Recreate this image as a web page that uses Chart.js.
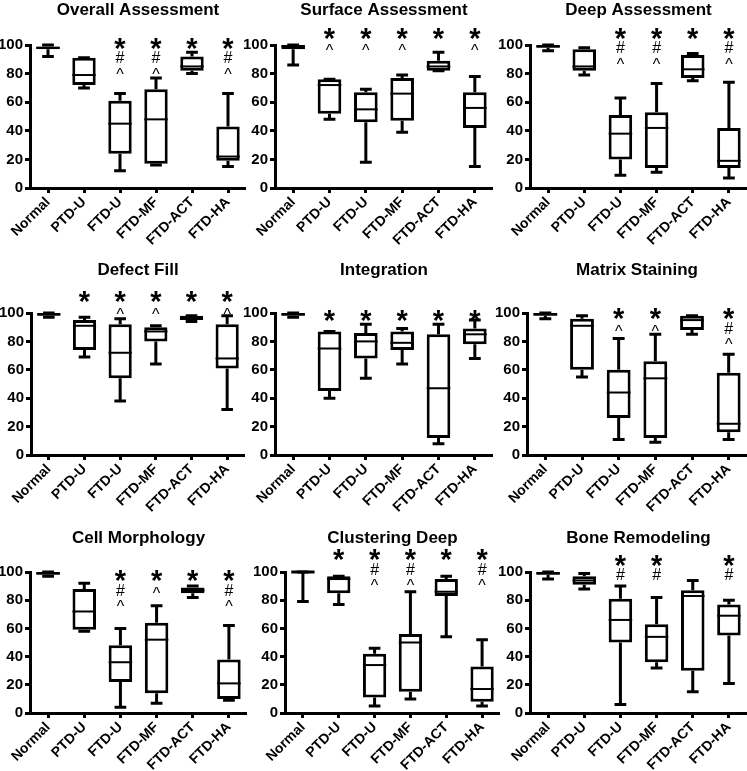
<!DOCTYPE html>
<html>
<head>
<meta charset="utf-8">
<script src="https://cdn.jsdelivr.net/npm/chart.js@4.4.1/dist/chart.umd.min.js"></script>
<style>
    html, body { margin: 0; padding: 0; background: #fff; overflow: hidden; }
    #grid { position: relative; width: 747px; height: 771px; }
    #grid canvas { position: absolute; }
</style>
</head>
<body>
<div id="grid"></div>
<script>
// categories shared by every panel
const groups = ['Normal', 'PTD-U', 'FTD-U', 'FTD-MF', 'FTD-ACT', 'FTD-HA'];

// each box: [min, q1, median, q3, max]
const overallStats  = [[92, 97, 98, 99, 100], [70, 72, 79, 91, 91], [12, 24, 45, 61, 66], [16, 17, 48, 69, 77], [80, 82, 85, 92, 95], [15, 19, 22, 43, 66]];
const overallMarks  = ['', '', '*#^', '*#^', '*', '*#^'];

const surfaceStats  = [[86, 97, 99, 100, 100], [48, 52, 72, 76, 76], [18, 46, 55, 67, 69], [39, 47, 66, 77, 79], [82, 82, 85, 89, 95], [15, 42, 56, 67, 78]];
const surfaceMarks  = ['', '*^', '*^', '*^', '*', '*^'];

const deepStats     = [[96, 98, 99, 100, 100], [79, 82, 85, 97, 98], [9, 20, 38, 51, 63], [11, 14, 42, 53, 73], [75, 77, 83, 93, 94], [7, 14, 19, 42, 74]];
const deepMarks     = ['', '', '*#^', '*#^', '*', '*#^'];

const defectStats   = [[97, 98, 99, 100, 100], [69, 74, 91, 95, 97], [38, 54, 72, 92, 96], [64, 80, 87, 90, 91], [94, 95, 96, 98, 98], [32, 61, 68, 92, 98]];
const defectMarks   = ['', '*', '*^', '*^', '*', '*^'];

const integrStats   = [[97, 98, 99, 100, 100], [40, 45, 75, 87, 87], [54, 68, 80, 86, 92], [64, 74, 79, 87, 89], [8, 12, 47, 85, 92], [68, 78, 85, 89, 95]];
const integrMarks   = ['', '*', '*', '*', '*', '*'];

const matrixStats   = [[96, 98, 99, 100, 100], [55, 60, 91, 96, 98], [11, 26, 44, 60, 82], [9, 12, 54, 66, 85], [85, 88, 95, 98, 98], [11, 16, 22, 58, 71]];
const matrixMarks   = ['', '', '*^', '*^', '', '*#^'];

const cellStats     = [[97, 98, 99, 100, 100], [58, 59, 72, 88, 92], [4, 22, 36, 48, 60], [7, 14, 52, 64, 76], [82, 85, 87, 89, 90], [9, 10, 21, 38, 62]];
const cellMarks     = ['', '', '*#^', '*^', '*', '*#^'];

const clusterStats  = [[79, 100, 100, 100, 100], [77, 85, 95, 97, 97], [5, 11, 34, 42, 46], [10, 15, 50, 56, 86], [54, 83, 86, 95, 97], [5, 8, 17, 33, 52]];
const clusterMarks  = ['', '*', '*#^', '*#^', '*', '*#^'];

const boneStats     = [[95, 98, 99, 100, 100], [88, 91, 94, 97, 99], [6, 50, 66, 81, 90], [32, 36, 54, 63, 82], [15, 30, 83, 87, 94], [21, 55, 69, 77, 80]];
const boneMarks     = ['', '', '*#', '*#', '', '*#'];

const titles   = ['Overall Assessment', 'Surface Assessment', 'Deep Assessment', 'Defect Fill', 'Integration', 'Matrix Staining', 'Cell Morphology', 'Clustering Deep', 'Bone Remodeling'];
// value at which the first significance mark sits, per panel
const markTops = [101, 108, 108, 111, 98, 99, 97, 112, 108];

// page layout (pixels)
const rowTops     = [0, 255, 510];
const titleCenter = [10, 15, 28];
const plotTop     = [45, 58, 62];
const plotBottom  = [188, 200, 203];
const axisLeft    = [[30, 275, 530], [31, 275, 527], [30, 285, 530]];
const axisRight   = [[246, 493, 747], [245, 493, 747], [247, 500, 747]];
const yAxisWidth  = 40;
const xAxisHeight = 68;

const fontFamily = "'Liberation Sans', Arial, sans-serif";

const panels = [
    [overallStats, overallMarks], [surfaceStats, surfaceMarks], [deepStats, deepMarks],
    [defectStats, defectMarks], [integrStats, integrMarks], [matrixStats, matrixMarks],
    [cellStats, cellMarks], [clusterStats, clusterMarks], [boneStats, boneMarks]
];

function makeBoxPlugin(stats, marks, markTop) {
    return {
        id: 'boxWhiskers',
        afterDatasetsDraw(chart) {
            const y = chart.scales.y;
            const ctx = chart.ctx;
            const meta = chart.getDatasetMeta(0);
            ctx.save();
            ctx.strokeStyle = '#000';
            ctx.fillStyle = '#000';
            stats.forEach((s, i) => {
                const bar = meta.data[i];
                const cx = bar.x;
                const half = bar.width / 2;
                const cap = bar.width / 4;
                const [lo, q1, med, q3, hi] = s.map(v => y.getPixelForValue(v));
                ctx.lineWidth = 3;
                ctx.beginPath();
                ctx.moveTo(cx, q3); ctx.lineTo(cx, hi);
                ctx.moveTo(cx - cap, hi); ctx.lineTo(cx + cap, hi);
                ctx.moveTo(cx, q1); ctx.lineTo(cx, lo);
                ctx.moveTo(cx - cap, lo); ctx.lineTo(cx + cap, lo);
                ctx.stroke();
                ctx.lineWidth = s[1] === s[3] ? 3 : 2;
                ctx.beginPath();
                ctx.moveTo(cx - half, med); ctx.lineTo(cx + half, med);
                ctx.stroke();

                // significance marks stacked above the box
                const startY = y.getPixelForValue(markTop);
                ctx.textAlign = 'center';
                ctx.textBaseline = 'alphabetic';
                marks[i].split('').forEach((ch, k) => {
                    ctx.font = ch === '*' ? `bold 29px ${fontFamily}` : `16px ${fontFamily}`;
                    const m = ctx.measureText(ch);
                    const cy = startY + k * 13.5;
                    ctx.fillText(ch, cx, cy + (m.actualBoundingBoxAscent - m.actualBoundingBoxDescent) / 2);
                });
            });
            ctx.restore();
        }
    };
}

const grid = document.getElementById('grid');

panels.forEach(([stats, marks], n) => {
    const row = Math.floor(n / 3);
    const col = n % 3;
    const left = axisLeft[row][col] - yAxisWidth;
    const canvas = document.createElement('canvas');
    canvas.width = axisRight[row][col] - left;
    canvas.height = plotBottom[row] + xAxisHeight;
    canvas.style.left = left + 'px';
    canvas.style.top = rowTops[row] + 'px';
    grid.appendChild(canvas);

    const titleLine = 17 * 1.2;
    const padTop = Math.max(0, titleCenter[row] - titleLine / 2);
    const padBottom = plotTop[row] - padTop - titleLine;

    new Chart(canvas.getContext('2d'), {
        type: 'bar',
        data: {
            labels: groups,
            datasets: [{
                data: stats.map(s => [s[1], s[3]]),
                backgroundColor: '#fff',
                borderColor: '#000',
                borderWidth: 3,
                borderSkipped: false,
                barPercentage: 0.65,
                categoryPercentage: 1
            }]
        },
        options: {
            responsive: false,
            animation: false,
            events: [],
            layout: { padding: 0 },
            plugins: {
                legend: { display: false },
                tooltip: { enabled: false },
                title: {
                    display: true,
                    text: titles[n],
                    fullSize: false,
                    color: '#000',
                    font: { family: fontFamily, size: 17, weight: 'bold', lineHeight: 1.2 },
                    padding: { top: padTop, bottom: padBottom }
                }
            },
            scales: {
                x: {
                    offset: true,
                    grid: { offset: false, drawOnChartArea: false, color: '#000', lineWidth: 3, tickLength: 5 },
                    border: { color: '#000', width: 3 },
                    ticks: {
                        color: '#000',
                        font: { family: fontFamily, size: 14, weight: 'bold' },
                        minRotation: 45,
                        maxRotation: 45,
                        autoSkip: false,
                        padding: 1
                    },
                    afterFit: s => { s.height = xAxisHeight; }
                },
                y: {
                    min: 0,
                    max: 100,
                    grid: { drawOnChartArea: false, color: '#000', lineWidth: 3, tickLength: 5 },
                    border: { color: '#000', width: 3 },
                    ticks: {
                        stepSize: 20,
                        color: '#000',
                        font: { family: fontFamily, size: 15, weight: 'bold' },
                        padding: 2
                    },
                    afterFit: s => { s.width = yAxisWidth; }
                }
            }
        },
        plugins: [makeBoxPlugin(stats, marks, markTops[n])]
    });
});
</script>
</body>
</html>
